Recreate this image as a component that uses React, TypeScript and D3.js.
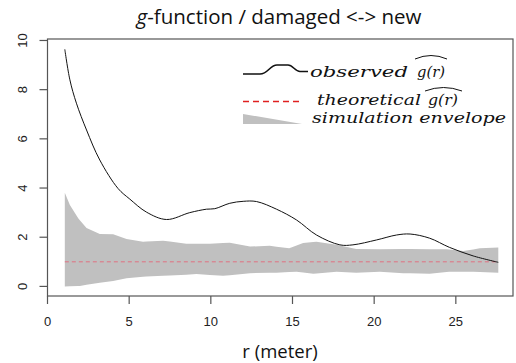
import React from "react";
import * as d3 from "d3";

const obsR = [1.06, 1.37, 1.77, 2.39, 3.2, 4.32, 5.04, 6.06, 7.29, 8.71, 9.74, 10.24, 11.16, 11.98, 12.8, 14.02, 15.25, 16.47, 17.9, 18.7, 20.15, 21.37, 22.2, 23.4, 24.6, 26.06, 27.6];
const obsG = [9.64, 8.4, 7.45, 6.36, 5.14, 3.98, 3.55, 3.02, 2.72, 3.0, 3.14, 3.16, 3.38, 3.46, 3.45, 3.14, 2.7, 2.09, 1.69, 1.69, 1.89, 2.09, 2.13, 1.96, 1.59, 1.24, 0.98];

const envUpR = [1.06, 1.37, 1.88, 2.39, 3.2, 4.02, 4.84, 5.85, 7.08, 8.5, 9.94, 11.16, 12.4, 13.6, 14.8, 15.65, 16.47, 17.7, 18.9, 20.35, 22.2, 24.43, 25.45, 26.47, 27.6];
const envUpG = [3.81, 3.31, 2.77, 2.37, 2.13, 2.12, 1.93, 1.82, 1.86, 1.73, 1.73, 1.78, 1.62, 1.65, 1.55, 1.76, 1.82, 1.69, 1.52, 1.51, 1.52, 1.51, 1.44, 1.55, 1.58];

const envLoR = [1.06, 1.98, 3.0, 4.02, 4.84, 6.06, 7.49, 9.12, 10.75, 12.4, 14.02, 15.25, 16.27, 17.7, 18.9, 20.35, 21.78, 23.4, 24.6, 26.06, 27.6];
const envLoG = [0.0, 0.02, 0.13, 0.22, 0.33, 0.4, 0.44, 0.5, 0.43, 0.54, 0.56, 0.6, 0.51, 0.6, 0.56, 0.6, 0.54, 0.51, 0.6, 0.6, 0.56];

const theoG = 1;
const xTicks = [0, 5, 10, 15, 20, 25];
const yTicks = [0, 2, 4, 6, 8, 10];

const BOX = { l: 47.5, r: 513, t: 39, b: 296 };

export default function App() {
  const x = d3.scaleLinear().domain([0, 28.5]).range([BOX.l, BOX.r]);
  const y = d3.scaleLinear().domain([-0.39, 10.06]).range([BOX.b, BOX.t]);

  const envR = d3.sort(Array.from(new Set([...envUpR, ...envLoR])));
  const interp = (rs: number[], gs: number[]) => (r: number) => {
    const i = d3.bisectLeft(rs, r);
    if (i <= 0) return gs[0];
    if (i >= rs.length) return gs[gs.length - 1];
    const t = (r - rs[i - 1]) / (rs[i] - rs[i - 1]);
    return gs[i - 1] + t * (gs[i] - gs[i - 1]);
  };
  const up = interp(envUpR, envUpG);
  const lo = interp(envLoR, envLoG);
  const area = d3
    .area<number>()
    .x((r) => x(r))
    .y0((r) => y(lo(r)))
    .y1((r) => y(up(r)));

  const line = d3
    .line<number>()
    .x((_, i) => x(obsR[i]))
    .y((g) => y(g))
    .curve(d3.curveCatmullRom.alpha(0.5));

  const sans = "'Liberation Sans', Arial, sans-serif";
  const serif = "'DejaVu Serif', 'Liberation Serif', serif";

  const lx = 243;
  const hat = (x0: number, x1: number, yb: number) =>
    `M${x0},${yb} Q${(x0 + x1) / 2},${yb - 7} ${x1},${yb}`;

  return (
    <svg width={516} height={363} style={{ display: "block", position: "absolute", left: 0, top: 0 }}>
      <rect width={516} height={363} fill="#fff" />
      <text x={279} y={24} textAnchor="middle" fontFamily="'Open Sans', sans-serif" fontSize={20.5} fill="#111">
        <tspan fontStyle="italic">g</tspan>-function / damaged &lt;-&gt; new
      </text>

      <path d={area(envR) || ""} fill="#c0c0c0" />
      <line x1={x(obsR[0])} x2={x(27.6)} y1={y(theoG)} y2={y(theoG)} stroke="#e07080" strokeWidth={1} strokeDasharray="4,3" />
      <path d={line(obsG) || ""} fill="none" stroke="#111" strokeWidth={1} />

      <rect x={BOX.l} y={BOX.t} width={BOX.r - BOX.l} height={BOX.b - BOX.t} fill="none" stroke="#555" strokeWidth={1.2} />

      {yTicks.map((t) => (
        <g key={t}>
          <line x1={BOX.l - 8} x2={BOX.l} y1={y(t)} y2={y(t)} stroke="#555" strokeWidth={1.2} />
          <text x={23} y={y(t)} transform={`rotate(-90 23 ${y(t)})`} textAnchor="middle" dominantBaseline="central" fontFamily={sans} fontSize={13} fill="#222">
            {t}
          </text>
        </g>
      ))}
      {xTicks.map((t) => (
        <g key={t}>
          <line x1={x(t)} x2={x(t)} y1={BOX.b} y2={BOX.b + 8} stroke="#555" strokeWidth={1.2} />
          <text x={x(t)} y={326} textAnchor="middle" fontFamily={sans} fontSize={13} fill="#222">
            {t}
          </text>
        </g>
      ))}
      <text x={280} y={358} textAnchor="middle" fontFamily="'Open Sans', sans-serif" fontSize={18.5} fill="#111">
        r (meter)
      </text>

      {/* legend */}
      <path
        d={`M${lx},74 L${lx + 17},74 C${lx + 25},74 ${lx + 27},65 ${lx + 34},65 L${lx + 45},65 C${lx + 50},65 ${lx + 52},71.5 ${lx + 57},71.5 L${lx + 65},71.5`}
        fill="none"
        stroke="#111"
        strokeWidth={1.6}
      />
      <text x={310} y={77} fontFamily={serif} fontStyle="italic" fontSize={15} fill="#111" textLength={98} lengthAdjust="spacingAndGlyphs">
        observed
      </text>
      <text x={417} y={77} fontFamily={serif} fontStyle="italic" fontSize={15} fill="#111" textLength={28} lengthAdjust="spacingAndGlyphs">
        g(r)
      </text>
      <path d={hat(415, 447, 59)} fill="none" stroke="#111" strokeWidth={1} />

      <line x1={lx} x2={302} y1={101.5} y2={101.5} stroke="#e02020" strokeWidth={1.6} strokeDasharray="6,4" />
      <text x={317} y={105} fontFamily={serif} fontStyle="italic" fontSize={15} fill="#111" textLength={104} lengthAdjust="spacingAndGlyphs">
        theoretical
      </text>
      <text x={428} y={105} fontFamily={serif} fontStyle="italic" fontSize={15} fill="#111" textLength={30} lengthAdjust="spacingAndGlyphs">
        g(r)
      </text>
      <path d={hat(425, 462, 91)} fill="none" stroke="#111" strokeWidth={1} />

      <path d={`M${lx},114 L${lx},124 L302,124 Z`} fill="#c0c0c0" />
      <text x={312} y={123} fontFamily={serif} fontStyle="italic" fontSize={15} fill="#111" textLength={194} lengthAdjust="spacingAndGlyphs">
        simulation envelope
      </text>
    </svg>
  );
}
